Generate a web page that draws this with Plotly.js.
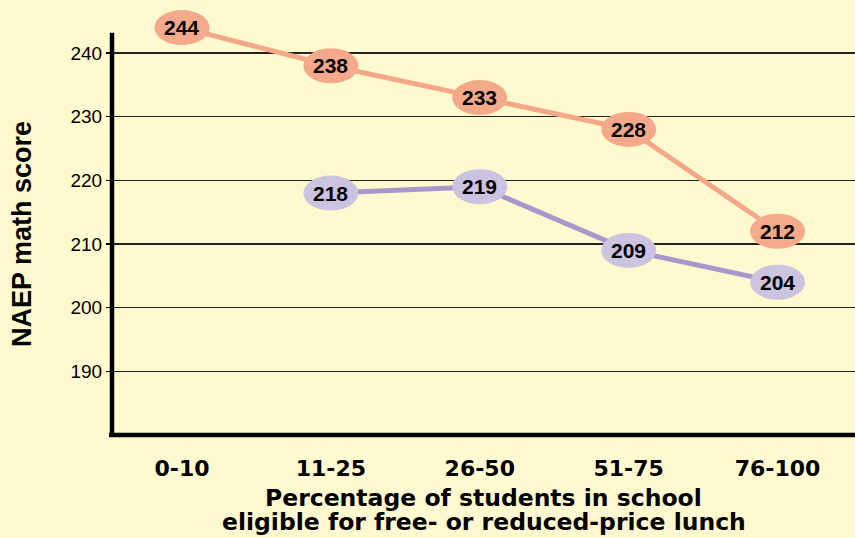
<!DOCTYPE html>
<html>
<head>
<meta charset="utf-8">
<script src="https://cdn.plot.ly/plotly-3.0.1.min.js"></script>
<style>
  html, body { margin: 0; padding: 0; background: #FFF9D0; }
  #chart { width: 855px; height: 538px; }
</style>
</head>
<body>
<div id="chart"></div>
<script>
// ---- data ----
const categories = ['0-10', '11-25', '26-50', '51-75', '76-100'];
const seriesOrange = [244, 238, 233, 228, 212];
const seriesPurple = [null, 218, 219, 209, 204];
const yTickValues = [190, 200, 210, 220, 230, 240];

// ---- styling ----
const BG = '#FFF9D0';
const ORANGE_LINE = '#F4A888';
const ORANGE_FILL = '#F4AA8A';
const PURPLE_LINE = '#A797CA';
const PURPLE_FILL = '#CCC3E0';
const Y_MIN = 180, Y_MAX = 248.33, AXIS_TOP = 243.2;

const xIdx = categories.map((_, i) => i);

function lineTrace(vals, color) {
  return {
    type: 'scatter', mode: 'lines',
    x: xIdx, y: vals,
    line: { color: color, width: 5 },
    connectgaps: false, cliponaxis: false,
    hoverinfo: 'skip', showlegend: false
  };
}

const traces = [lineTrace(seriesOrange, ORANGE_LINE), lineTrace(seriesPurple, PURPLE_LINE)];

const shapes = [];
const annotations = [];
function addBubbles(vals, fill) {
  vals.forEach((v, i) => {
    if (v === null) return;
    shapes.push({
      type: 'circle', layer: 'above',
      xref: 'x', yref: 'y',
      xsizemode: 'pixel', ysizemode: 'pixel',
      xanchor: xIdx[i], yanchor: v,
      x0: -27.5, x1: 27.5, y0: -17.5, y1: 17.5,
      fillcolor: fill, line: { width: 0 }
    });
    annotations.push({
      x: xIdx[i], y: v, xref: 'x', yref: 'y',
      xanchor: 'center', yanchor: 'middle',
      text: String(v), showarrow: false,
      font: { family: 'Arial, "Liberation Sans", sans-serif', size: 21, color: '#000', weight: 'bold' }
    });
  });
}
addBubbles(seriesOrange, ORANGE_FILL);
addBubbles(seriesPurple, PURPLE_FILL);

// axis lines
shapes.push({
  type: 'line', xref: 'paper', yref: 'y', x0: 0, x1: 0, y0: Y_MIN, y1: AXIS_TOP,
  line: { color: '#000', width: 4.5 }, layer: 'above'
});
shapes.push({
  type: 'line', xref: 'paper', yref: 'paper', x0: -0.004, x1: 1, y0: 0, y1: 0,
  line: { color: '#000', width: 4.5 }, layer: 'above'
});

// axis titles
annotations.push({
  xref: 'paper', yref: 'paper', x: 0.5, y: 0, yshift: -63,
  xanchor: 'center', yanchor: 'middle',
  text: 'Percentage of students in school', showarrow: false,
  font: { family: '"DejaVu Sans", sans-serif', size: 23.5, color: '#000', weight: 'bold' }
});
annotations.push({
  xref: 'paper', yref: 'paper', x: 0.5, y: 0, yshift: -87,
  xanchor: 'center', yanchor: 'middle',
  text: 'eligible for free- or reduced-price lunch', showarrow: false,
  font: { family: '"DejaVu Sans", sans-serif', size: 23.5, color: '#000', weight: 'bold' }
});
annotations.push({
  xref: 'paper', yref: 'paper', x: 0, xshift: -90, y: (435 - 234) / 435,
  xanchor: 'center', yanchor: 'middle',
  text: 'NAEP math score', showarrow: false, textangle: -90,
  font: { family: 'Arial, "Liberation Sans", sans-serif', size: 27, color: '#000', weight: 'bold' }
});

const layout = {
  width: 855, height: 538,
  margin: { l: 112, r: 0, t: 0, b: 103 },
  paper_bgcolor: BG, plot_bgcolor: BG,
  showlegend: false,
  xaxis: {
    range: [-0.47, 4.52],
    tickmode: 'array', tickvals: xIdx, ticktext: categories,
    showgrid: false, zeroline: false, showline: false,
    ticks: '', ticklabelstandoff: 18,
    tickfont: { family: '"DejaVu Sans", sans-serif', size: 22, color: '#000', weight: 'bold' },
    fixedrange: true
  },
  yaxis: {
    range: [Y_MIN, Y_MAX],
    tickmode: 'array', tickvals: yTickValues,
    showgrid: true, gridcolor: '#222', gridwidth: 1.4,
    zeroline: false, showline: false,
    ticks: 'outside', ticklen: 5, tickwidth: 1.4, tickcolor: '#000',
    tickfont: { family: 'Arial, "Liberation Sans", sans-serif', size: 19, color: '#000' },
    fixedrange: true
  },
  shapes: shapes,
  annotations: annotations
};

Plotly.newPlot('chart', traces, layout, { displayModeBar: false, staticPlot: true });
</script>
</body>
</html>
